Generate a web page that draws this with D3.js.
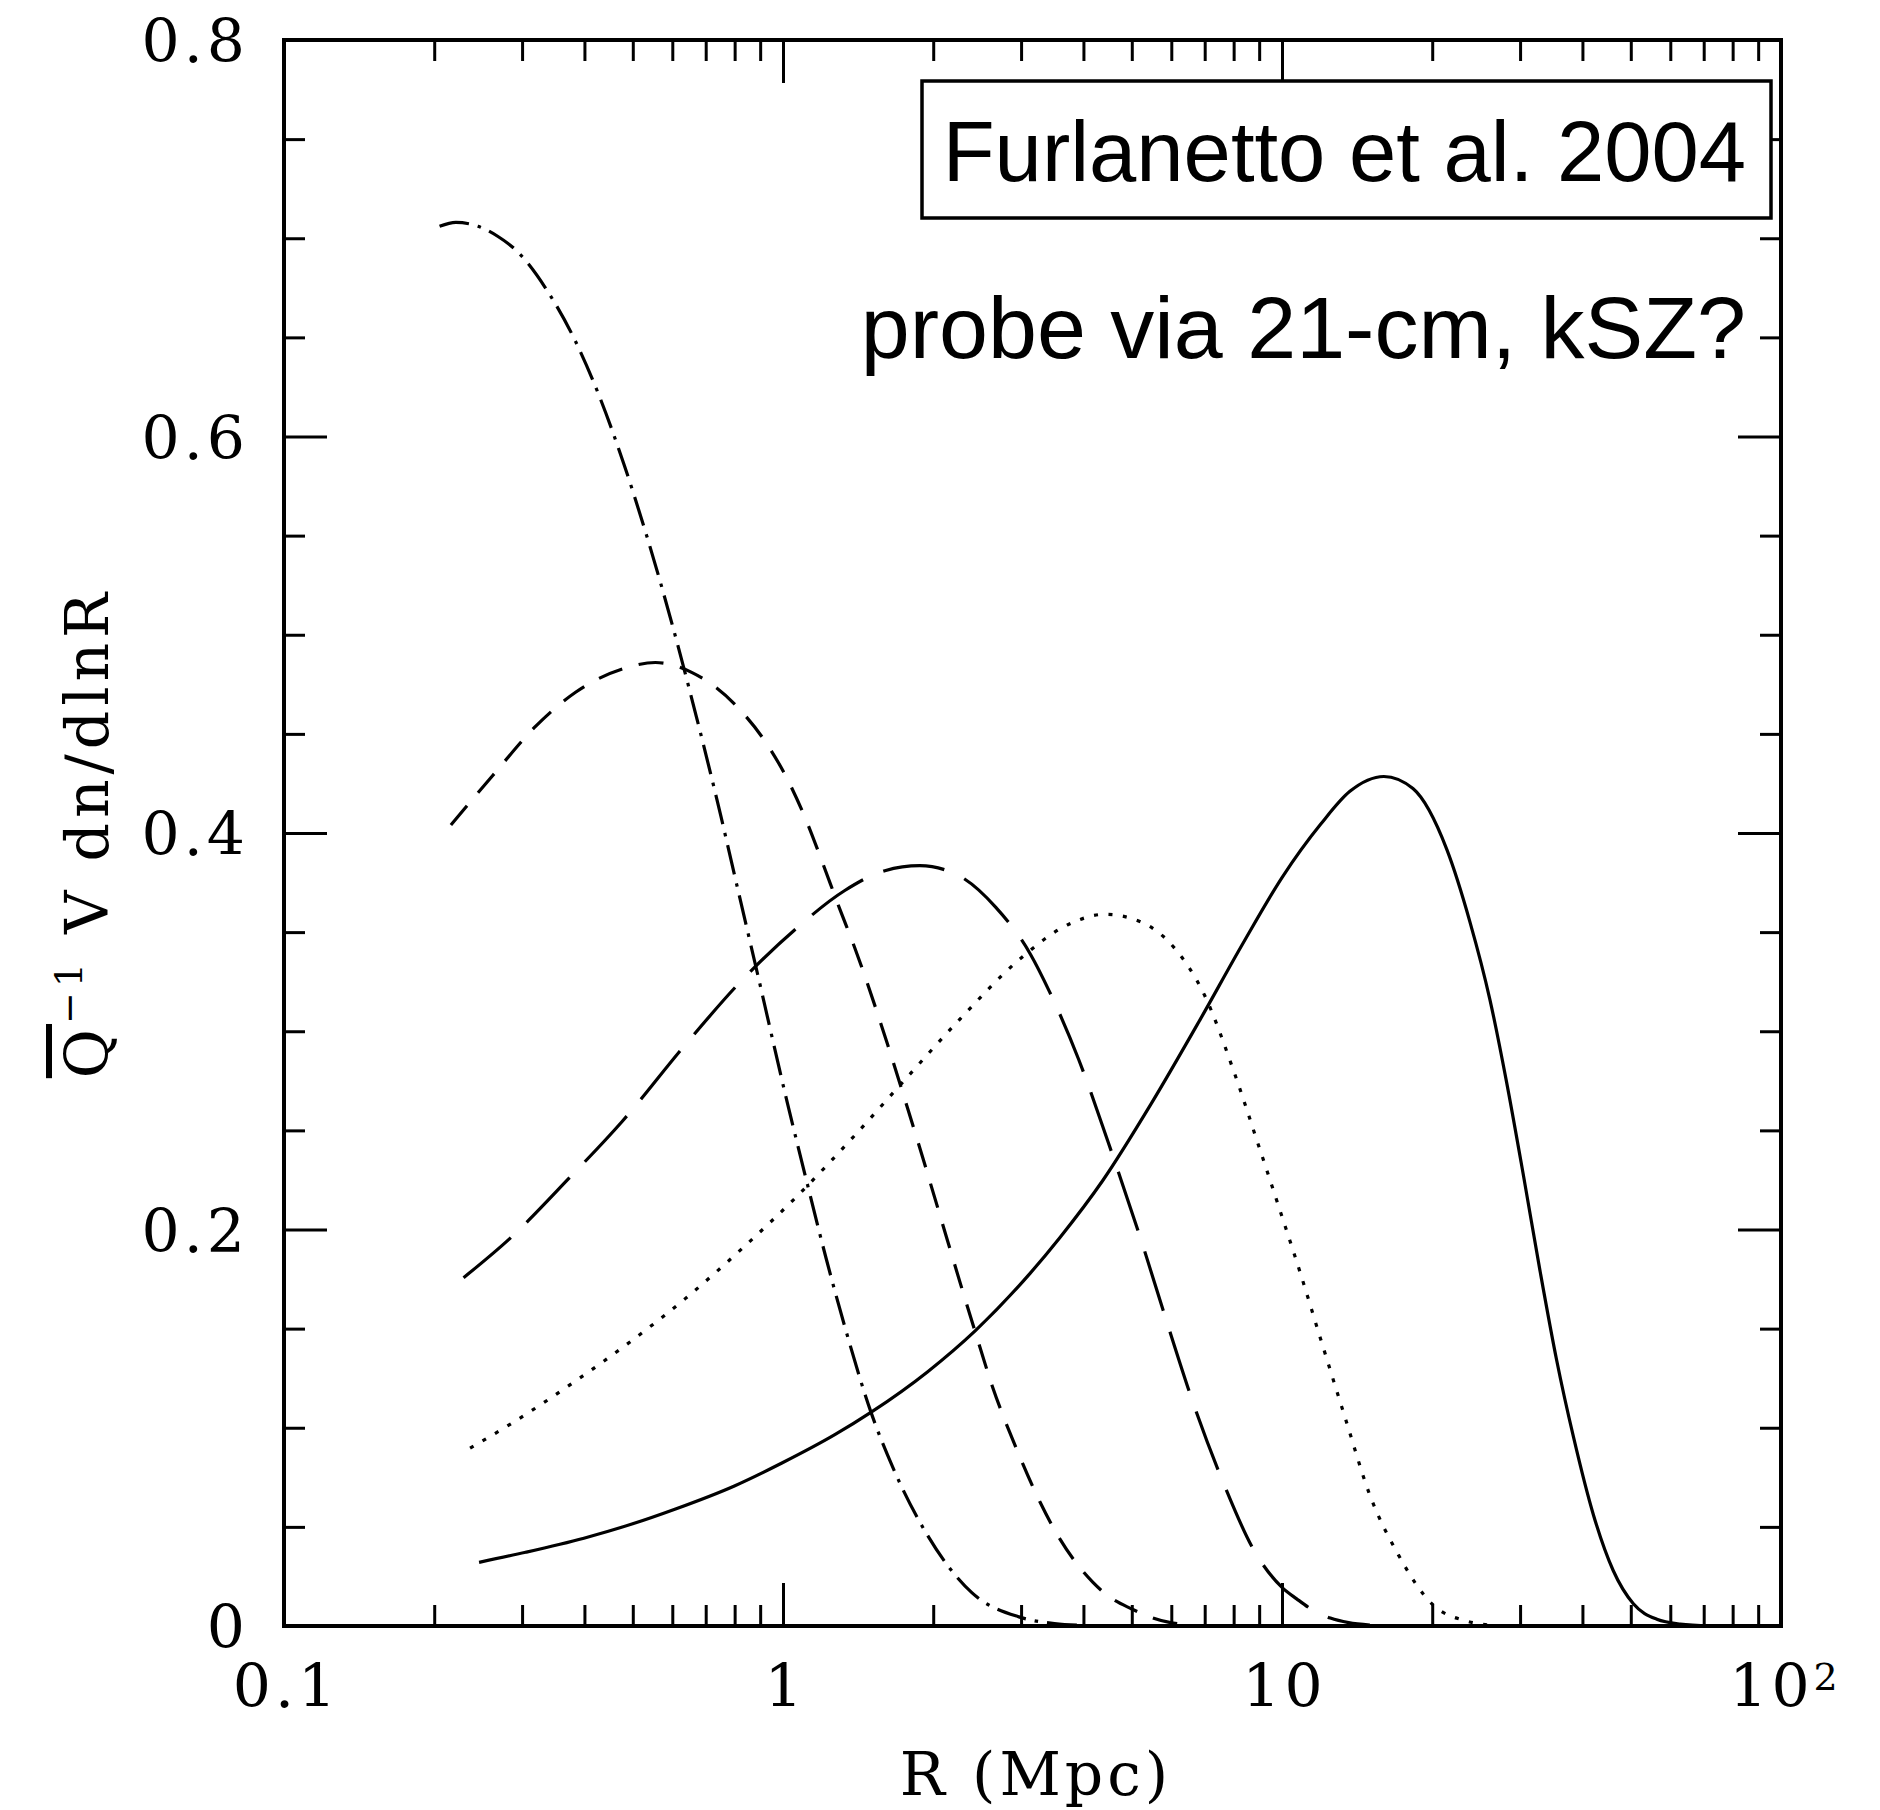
<!DOCTYPE html>
<html><head><meta charset="utf-8">
<script src="https://cdn.jsdelivr.net/npm/d3@7"></script>
<style>body{margin:0;background:#fff}</style>
</head><body>
<svg id="c" width="1880" height="1810"></svg>
<script>
// ---- data ----
const xMajor = [0.1, 1, 10, 100];
const xTickLabels = ['0.1', '1', '10', '10²'];
const xMinor = [0.2,0.3,0.4,0.5,0.6,0.7,0.8,0.9,2,3,4,5,6,7,8,9,20,30,40,50,60,70,80,90];
const yMajor = [0, 0.2, 0.4, 0.6, 0.8];
const yTickLabels = ['0', '0.2', '0.4', '0.6', '0.8'];
const yMinor = [0.05,0.1,0.15,0.25,0.3,0.35,0.45,0.5,0.55,0.65,0.7,0.75];

// dash-dot curve
const rA = [0.205,0.221,0.245,0.268,0.293,0.339,0.383,0.429,0.480,0.536,0.600,0.670,0.750,0.80,0.89,1.02,1.12,1.22,1.33,1.50,1.66,1.94,2.39,2.97,3.5,4.0];
const vA = [0.706,0.708,0.706,0.701,0.6935,0.6725,0.6485,0.620,0.586,0.548,0.505,0.459,0.409,0.3785,0.3285,0.264,0.2225,0.1855,0.151,0.108,0.080,0.0465,0.0168,0.0046,0.0012,0.0003];
// short-dashed curve
const rB = [0.216,0.262,0.320,0.384,0.480,0.555,0.656,0.821,0.939,1.026,1.123,1.20,1.298,1.39,1.62,1.74,1.91,2.07,2.28,2.43,2.63,2.94,3.27,3.59,4.18,4.52,5.0,5.45,5.95,6.5];
const vB = [0.404,0.429,0.454,0.471,0.483,0.486,0.481,0.462,0.443,0.426,0.404,0.385,0.362,0.3426,0.2934,0.2686,0.2354,0.206,0.1707,0.148,0.1206,0.0891,0.0628,0.0438,0.022,0.0145,0.0086,0.0045,0.0018,0.0006];
// long-dashed curve
const rC = [0.229,0.285,0.373,0.476,0.636,0.833,1.065,1.33,1.60,1.88,2.25,2.67,3.13,3.42,3.91,4.47,5.23,5.85,6.69,7.65,8.75,10.0,10.7,11.6,12.5,13.6,15];
const vC = [0.1757,0.196,0.226,0.2545,0.293,0.3265,0.352,0.371,0.381,0.3835,0.3785,0.3625,0.339,0.320,0.286,0.245,0.194,0.155,0.110,0.0715,0.039,0.0195,0.0137,0.0076,0.004,0.0017,0.0005];
// dotted curve
const rD = [0.236,0.285,0.381,0.498,0.636,0.833,1.065,1.393,1.74,2.27,2.97,3.74,4.42,5.23,6.11,7.0,8.0,9.0,10.0,10.9,11.96,13.4,15.0,17.1,20.0,23.4,26];
const vD = [0.0897,0.102,0.123,0.144,0.165,0.191,0.2166,0.2475,0.2745,0.3065,0.336,0.354,0.359,0.355,0.3415,0.318,0.280,0.2415,0.2065,0.1775,0.1445,0.1046,0.066,0.036,0.011,0.0025,0.0005];
// solid curve
const rE = [0.246,0.305,0.399,0.498,0.609,0.797,0.995,1.27,1.505,1.95,2.43,3.13,3.59,4.37,5.47,6.84,8.36,10.0,11.96,13.68,16.0,18.3,21.4,23.8,26.1,28.2,30.5,32.9,35.5,38.4,42.1,46.1,50.6,56.4,62.8,72];
const vE = [0.0321,0.0372,0.0443,0.0514,0.0590,0.0705,0.0822,0.0965,0.108,0.1283,0.149,0.178,0.196,0.2246,0.2635,0.3055,0.3445,0.3775,0.4045,0.421,0.4285,0.4224,0.3916,0.3552,0.316,0.2741,0.2266,0.179,0.1343,0.0951,0.0559,0.028,0.0112,0.0034,0.0010,0.0001];

const seriesDefs = [
  {r: rA, v: vA, dash: '30 9 3.5 9'},
  {r: rB, v: vB, dash: '25 17'},
  {r: rC, v: vC, dash: '62 22'},
  {r: rD, v: vD, dash: '4 10.5'},
  {r: rE, v: vE, dash: null}
];

// ---- layout ----
const W = 1880, H = 1810;
const L = 284, R = 1781, T = 40, B = 1626;
const x = d3.scaleLog().domain([0.1, 100]).range([L, R]);
const y = d3.scaleLinear().domain([0, 0.8]).range([B, T]);
const svg = d3.select('#c');
svg.append('rect').attr('width', W).attr('height', H).attr('fill', '#fff');

const SERIF = 'DejaVu Serif';
const LS = 4; // letter spacing for the Hershey-like serif text
function drawAxis(axis, tx, ty) {
  const g = svg.append('g').attr('transform', `translate(${tx},${ty})`).call(axis);
  g.select('.domain').remove();
  g.selectAll('line').attr('stroke', '#000').attr('stroke-width', 3);
  g.attr('font-family', SERIF).attr('font-size', 60);
  g.selectAll('text').attr('fill', '#000').attr('letter-spacing', LS);
  return g;
}

// bottom
const gb = drawAxis(d3.axisBottom(x).tickValues(xMajor).tickSize(-43).tickSizeOuter(0)
  .tickFormat((d, i) => xTickLabels[i]), 0, B);
gb.selectAll('text').attr('y', 81).attr('dy', 0).attr('x', LS / 2);
gb.selectAll('text').each(function() {
  const t = d3.select(this);
  const s = t.text();
  if (s.indexOf('²') >= 0) {
    t.text(s.replace('²', '')).attr('x', LS / 2 + 2);
    t.append('tspan').attr('font-size', 38).attr('dy', -17).text('2');
  }
});
drawAxis(d3.axisBottom(x).tickValues(xMinor).tickSize(-21).tickSizeOuter(0).tickFormat(''), 0, B);
// top
drawAxis(d3.axisTop(x).tickValues(xMajor).tickSize(-43).tickSizeOuter(0).tickFormat(''), 0, T);
drawAxis(d3.axisTop(x).tickValues(xMinor).tickSize(-21).tickSizeOuter(0).tickFormat(''), 0, T);
// left
const gl = drawAxis(d3.axisLeft(y).tickValues(yMajor).tickSize(-43).tickSizeOuter(0)
  .tickFormat((d, i) => yTickLabels[i]), L, 0);
gl.selectAll('text').attr('x', -39 + LS).attr('dy', '0.36em');
drawAxis(d3.axisLeft(y).tickValues(yMinor).tickSize(-21).tickSizeOuter(0).tickFormat(''), L, 0);
// right
drawAxis(d3.axisRight(y).tickValues(yMajor).tickSize(-43).tickSizeOuter(0).tickFormat(''), R, 0);
drawAxis(d3.axisRight(y).tickValues(yMinor).tickSize(-21).tickSizeOuter(0).tickFormat(''), R, 0);

// frame
svg.append('rect').attr('x', L).attr('y', T).attr('width', R - L).attr('height', B - T)
  .attr('fill', 'none').attr('stroke', '#000').attr('stroke-width', 4);

// curves
const line = d3.line().x(d => x(d[0])).y(d => y(d[1])).curve(d3.curveMonotoneX);
seriesDefs.forEach(s => {
  const pts = s.r.map((r, i) => [r, s.v[i]]);
  const p = svg.append('path').attr('d', line(pts)).attr('fill', 'none')
    .attr('stroke', '#000').attr('stroke-width', 3.2);
  if (s.dash) p.attr('stroke-dasharray', s.dash);
});

// axis titles
svg.append('text').attr('x', 1036).attr('y', 1795).attr('text-anchor', 'middle')
  .attr('font-family', SERIF).attr('font-size', 60).attr('letter-spacing', LS)
  .attr('fill', '#000').text('R (Mpc)');
const yl = svg.append('text').attr('transform', 'translate(108,833) rotate(-90)')
  .attr('text-anchor', 'middle').attr('font-family', SERIF).attr('font-size', 60)
  .attr('letter-spacing', 5).attr('fill', '#000');
yl.append('tspan').style('text-decoration', 'overline').text('Q');
yl.append('tspan').attr('font-size', 38).attr('dy', -26).text('−1');
yl.append('tspan').attr('dy', 26).text(' V dn/dlnR');

// annotations
svg.append('rect').attr('x', 922).attr('y', 81).attr('width', 849).attr('height', 137)
  .attr('fill', '#fff').attr('stroke', '#000').attr('stroke-width', 3.5);
svg.append('text').attr('x', 1746).attr('y', 181).attr('text-anchor', 'end')
  .attr('font-family', 'Liberation Sans').attr('font-size', 85).attr('fill', '#000')
  .text('Furlanetto et al. 2004');
svg.append('text').attr('x', 1746).attr('y', 358).attr('text-anchor', 'end')
  .attr('font-family', 'Liberation Sans').attr('font-size', 88).attr('fill', '#000')
  .text('probe via 21-cm, kSZ?');
</script>
</body></html>
